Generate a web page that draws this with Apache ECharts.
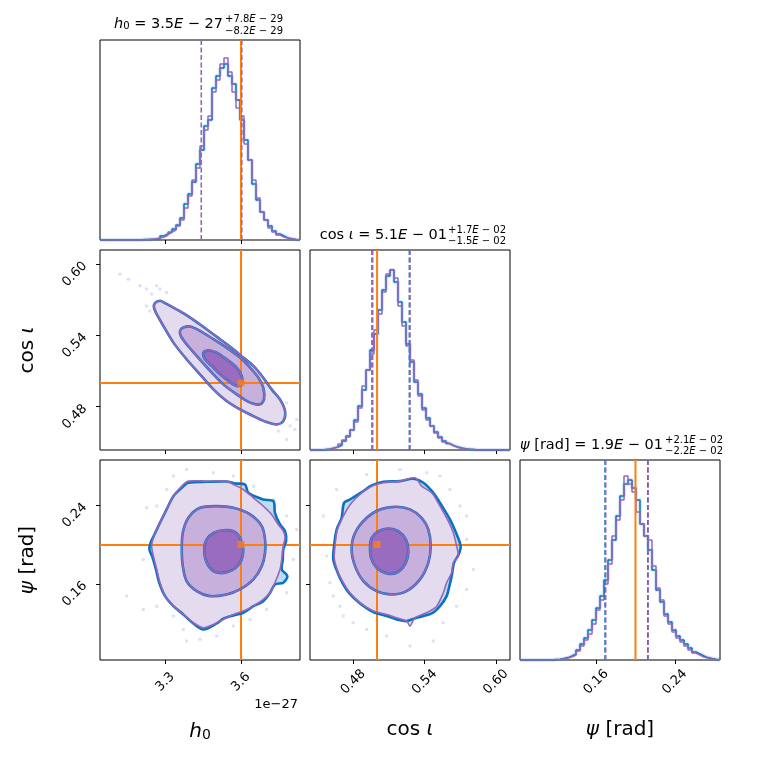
<!DOCTYPE html>
<html>
<head>
<meta charset="utf-8">
<script src="https://cdn.jsdelivr.net/npm/echarts@6/dist/echarts.min.js"></script>
<style>
html, body { margin: 0; padding: 0; background: #fff; }
#chart { width: 760px; height: 760px; }
</style>
</head>
<body>
<div id="chart"></div>
<script>
// ---- data (h0 in units of 1e-27) ----
var h0Range = [3.043, 3.833];
var cosRange = [0.4436, 0.6118];
var psiRange = [0.0825, 0.286];

var h0Ticks = [3.3, 3.6];
var cosTicks = [0.48, 0.54, 0.60];
var psiTicks = [0.16, 0.24];

var truth = { h0: 3.6, cos: 0.5, psi: 0.2 };

var h0QPurple = [3.443, 3.603];
var cosQPurple = [0.4963, 0.5277];
var cosQBlue = [0.4958, 0.5272];
var psiQPurple = [0.1697, 0.2129];
var psiQBlue = [0.1691, 0.2125];

// histogram heights, 50 bins over the axis range (fraction of panel height)
var h0Blue = [0,0,0,0,0,0,0,0,0,0, 0.002,0.003,0.004,0.005,0.008,0.02,0.03,0.04,0.055,0.075,
  0.11,0.18,0.23,0.29,0.38,0.45,0.57,0.6,0.76,0.82, 0.86,0.88,0.82,0.78,0.7,0.6,0.5,0.4,0.28,0.2,
  0.14,0.1,0.07,0.045,0.03,0.02,0.01,0.006,0.003,0.001];
var h0Purple = [0,0,0,0,0,0,0,0,0,0, 0.001,0.002,0.004,0.006,0.01,0.015,0.025,0.04,0.05,0.07,
  0.1,0.16,0.22,0.3,0.36,0.47,0.55,0.62,0.74,0.8, 0.88,0.91,0.84,0.74,0.66,0.62,0.48,0.4,0.3,0.21,
  0.14,0.1,0.06,0.04,0.025,0.015,0.01,0.005,0.003,0.001];
var cosBlue = [0,0,0,0.003,0.005,0.01,0.015,0.025,0.045,0.07, 0.1,0.15,0.22,0.3,0.4,0.5,0.58,0.7,0.8,0.87,
  0.9,0.84,0.74,0.64,0.53,0.44,0.34,0.28,0.21,0.16, 0.12,0.09,0.065,0.045,0.032,0.022,0.015,0.01,0.006,0.004,
  0.002,0,0,0,0,0,0,0,0,0];
var cosPurple = [0,0,0,0.002,0.004,0.008,0.015,0.03,0.05,0.065, 0.1,0.14,0.21,0.32,0.4,0.48,0.6,0.68,0.79,0.88,
  0.9,0.86,0.72,0.62,0.52,0.45,0.35,0.27,0.2,0.15, 0.12,0.085,0.06,0.04,0.03,0.02,0.013,0.008,0.005,0.003,
  0.002,0,0,0,0,0,0,0,0,0];
var psiBlue = [0,0,0,0,0,0,0,0,0.002,0.004, 0.008,0.012,0.02,0.03,0.05,0.08,0.11,0.15,0.2,0.26,
  0.32,0.4,0.5,0.6,0.72,0.82,0.88,0.9,0.86,0.8, 0.68,0.62,0.55,0.45,0.35,0.29,0.23,0.19,0.15,0.12,
  0.1,0.08,0.06,0.04,0.03,0.02,0.012,0.008,0.004,0.002];
var psiPurple = [0,0,0,0,0,0,0,0,0.001,0.003, 0.006,0.01,0.016,0.025,0.045,0.07,0.1,0.13,0.18,0.25,
  0.3,0.38,0.48,0.62,0.7,0.8,0.92,0.88,0.84,0.74, 0.68,0.62,0.6,0.47,0.36,0.3,0.22,0.18,0.14,0.11,
  0.09,0.07,0.05,0.035,0.025,0.015,0.01,0.006,0.003,0.001];

// contours: h0 vs cos(iota)
var hcOuter = [[3.260,0.5671],[3.280,0.5691],[3.300,0.5671],[3.333,0.5634],[3.372,0.5587],[3.418,0.5522],
  [3.464,0.5452],[3.517,0.5368],[3.570,0.5283],[3.609,0.5213],[3.649,0.5143],[3.688,0.5044],[3.721,0.4946],
  [3.754,0.4862],[3.774,0.4763],[3.767,0.4679],[3.741,0.4651],[3.701,0.4671],[3.649,0.4721],[3.596,0.4777],
  [3.543,0.4848],[3.491,0.4946],[3.438,0.5072],[3.385,0.5199],[3.333,0.5339],[3.293,0.5480],[3.267,0.5578],
  [3.256,0.5634]];
var hcMid = [[3.359,0.5438],[3.372,0.5466],[3.399,0.5474],[3.438,0.5438],[3.491,0.5368],[3.543,0.5297],
  [3.596,0.5213],[3.636,0.5129],[3.669,0.5044],[3.688,0.4960],[3.691,0.4862],[3.675,0.4820],[3.636,0.4834],
  [3.583,0.4904],[3.530,0.4988],[3.478,0.5101],[3.425,0.5227],[3.385,0.5325],[3.362,0.5396]];
var hcInner = [[3.451,0.5255],[3.471,0.5275],[3.504,0.5255],[3.543,0.5199],[3.583,0.5129],[3.603,0.5058],
  [3.603,0.4988],[3.583,0.4974],[3.550,0.5016],[3.517,0.5072],[3.484,0.5143],[3.458,0.5199]];
var hcDots = [[3.122,0.5915],[3.155,0.5873],[3.201,0.5817],[3.227,0.5789],[3.267,0.5817],[3.280,0.5789],
  [3.247,0.5747],[3.227,0.5648],[3.240,0.5606],[3.306,0.5761],[3.780,0.4834],[3.794,0.4637],[3.813,0.4609],
  [3.780,0.4525],[3.747,0.4595],[3.767,0.4736],[3.728,0.4750],[3.675,0.4693],[3.820,0.4693]];

// contours: h0 vs psi
var hpOuter = [[3.392,0.2645],[3.464,0.2645],[3.543,0.2645],[3.570,0.2611],[3.609,0.2560],[3.649,0.2475],
  [3.688,0.2391],[3.721,0.2306],[3.747,0.2204],[3.767,0.2136],[3.774,0.2069],[3.767,0.1984],[3.761,0.1848],
  [3.754,0.1746],[3.734,0.1611],[3.715,0.1509],[3.688,0.1441],[3.649,0.1373],[3.609,0.1323],[3.570,0.1289],
  [3.530,0.1238],[3.491,0.1187],[3.451,0.1153],[3.412,0.1204],[3.372,0.1289],[3.333,0.1373],[3.300,0.1475],
  [3.280,0.1611],[3.267,0.1746],[3.254,0.1882],[3.247,0.1984],[3.256,0.2085],[3.280,0.2221],[3.306,0.2357],
  [3.333,0.2492],[3.366,0.2594]];
var hpOuterBlue = [[3.370,0.2587],[3.392,0.2628],[3.464,0.2638],[3.543,0.2641],[3.576,0.2621],[3.616,0.2611],
  [3.629,0.2526],[3.688,0.2458],[3.728,0.2441],[3.734,0.2323],[3.754,0.2204],[3.774,0.2136],[3.778,0.2035],
  [3.767,0.1950],[3.765,0.1848],[3.761,0.1746],[3.783,0.1679],[3.767,0.1611],[3.734,0.1594],[3.715,0.1509],
  [3.688,0.1424],[3.649,0.1373],[3.609,0.1306],[3.570,0.1279],[3.530,0.1245],[3.504,0.1197],[3.451,0.1136],
  [3.412,0.1197],[3.372,0.1289],[3.333,0.1373],[3.300,0.1475],[3.277,0.1611],[3.264,0.1746],[3.251,0.1865],
  [3.238,0.1950],[3.243,0.2018],[3.256,0.2092],[3.280,0.2221],[3.306,0.2357],[3.333,0.2492]];
var hpMid = [[3.438,0.2374],[3.504,0.2391],[3.570,0.2374],[3.636,0.2306],[3.682,0.2187],[3.695,0.2052],
  [3.695,0.1916],[3.682,0.1780],[3.649,0.1645],[3.596,0.1543],[3.543,0.1492],[3.477,0.1475],[3.425,0.1526],
  [3.385,0.1628],[3.370,0.1780],[3.366,0.1950],[3.370,0.2119],[3.392,0.2272]];
var hpInner = [[3.464,0.2052],[3.491,0.2119],[3.530,0.2146],[3.570,0.2136],[3.596,0.2069],[3.609,0.1950],
  [3.596,0.1814],[3.557,0.1729],[3.510,0.1712],[3.477,0.1763],[3.458,0.1865],[3.455,0.1967]];
var hpDots = [[3.227,0.2374],[3.267,0.2391],[3.306,0.2560],[3.214,0.1848],[3.148,0.1475],[3.214,0.1340],
  [3.267,0.1373],[3.333,0.1272],[3.372,0.1136],[3.385,0.1018],[3.438,0.1035],[3.504,0.1069],[3.570,0.1170],
  [3.636,0.1238],[3.701,0.1340],[3.780,0.1509],[3.807,0.1848],[3.820,0.2153],[3.780,0.2289],[3.728,0.2458],
  [3.649,0.2594],[3.570,0.2696],[3.491,0.2730],[3.385,0.2764],[3.333,0.2696]];

// contours: cos(iota) vs psi
var cpOuter = [[0.5053,0.2628],[0.5193,0.2645],[0.5319,0.2679],[0.5375,0.2594],[0.5459,0.2526],[0.5529,0.2391],
  [0.5599,0.2238],[0.5641,0.2119],[0.5669,0.1984],[0.5683,0.1882],[0.5641,0.1814],[0.5627,0.1713],[0.5585,0.1611],
  [0.5557,0.1509],[0.5501,0.1373],[0.5417,0.1306],[0.5319,0.1255],[0.5277,0.1170],[0.5249,0.1221],[0.5165,0.1255],
  [0.5081,0.1289],[0.4969,0.1323],[0.4857,0.1407],[0.4772,0.1509],[0.4716,0.1611],[0.4674,0.1713],[0.4641,0.1848],
  [0.4646,0.1984],[0.4666,0.2153],[0.4716,0.2289],[0.4786,0.2425],[0.4871,0.2526],[0.4955,0.2594]];
var cpOuterBlue = [[0.4955,0.2601],[0.5053,0.2638],[0.5193,0.2645],[0.5305,0.2669],[0.5389,0.2628],[0.5473,0.2526],
  [0.5543,0.2397],[0.5613,0.2255],[0.5664,0.2119],[0.5703,0.1984],[0.5686,0.1899],[0.5647,0.1814],[0.5630,0.1696],
  [0.5608,0.1577],[0.5585,0.1475],[0.5529,0.1373],[0.5459,0.1299],[0.5333,0.1255],[0.5249,0.1221],[0.5165,0.1238],
  [0.5081,0.1272],[0.4969,0.1313],[0.4857,0.1401],[0.4767,0.1502],[0.4711,0.1604],[0.4669,0.1713],[0.4632,0.1848],
  [0.4638,0.1984],[0.4660,0.2153],[0.4702,0.2272],[0.4722,0.2424],[0.4772,0.2458],[0.4871,0.2533]];
var cpMid = [[0.4913,0.2272],[0.5025,0.2357],[0.5165,0.2384],[0.5277,0.2357],[0.5375,0.2272],[0.5431,0.2153],
  [0.5451,0.1984],[0.5431,0.1814],[0.5361,0.1645],[0.5249,0.1526],[0.5123,0.1492],[0.4997,0.1526],[0.4885,0.1628],
  [0.4815,0.1780],[0.4786,0.1950],[0.4815,0.2119]];
var cpInner = [[0.4955,0.2068],[0.5011,0.2136],[0.5095,0.2163],[0.5179,0.2136],[0.5243,0.2051],[0.5263,0.1933],
  [0.5235,0.1797],[0.5165,0.1713],[0.5081,0.1706],[0.4997,0.1763],[0.4949,0.1865],[0.4941,0.1984]];
var cpDots = [[0.4548,0.2289],[0.4576,0.1882],[0.4604,0.1611],[0.4632,0.1475],[0.4688,0.1373],[0.4716,0.1272],
  [0.4800,0.1204],[0.4913,0.1136],[0.5081,0.1069],[0.5277,0.0967],[0.5473,0.1018],[0.5557,0.1204],[0.5669,0.1373],
  [0.5753,0.1543],[0.5810,0.1746],[0.5753,0.2052],[0.5753,0.2289],[0.5697,0.2391],[0.5613,0.2560],[0.5529,0.2696],
  [0.5417,0.2730],[0.5193,0.2764],[0.4913,0.2713],[0.4660,0.2560]];

// ---- styles ----
var BLUE = '#0a72c0';
var PURPLE = '#9467bd';
var ORANGE = '#ff7f0e';
var FILL1 = '#e5dbef', FILL2 = '#c7b1dc', FILL3 = '#9a6cc0', BLUEFILL = '#bddcf0';
var FONT = 'DejaVu Sans';

function histData(range, vals) {
    var n = vals.length, w = (range[1] - range[0]) / n, out = [];
    for (var i = 0; i < n; i++) out.push([range[0] + i * w, vals[i]]);
    out.push([range[1], vals[n - 1]]);
    return out;
}

function histSeries(g, range, vals, color, z) {
    return {
        type: 'line', xAxisIndex: g, yAxisIndex: g, step: 'end', symbol: 'none', z: z, silent: true,
        data: histData(range, vals),
        lineStyle: { color: color, width: 1.5 }
    };
}

function haloSeries(g, range, vals) {
    return {
        type: 'line', xAxisIndex: g, yAxisIndex: g, step: 'end', symbol: 'none', z: 1, silent: true,
        data: histData(range, vals),
        lineStyle: { color: 'rgba(40,130,200,0.18)', width: 4 }
    };
}

// vertical line across a histogram panel (y axis runs 0..1)
function vlineSeries(g, v, color, dashed, z) {
    return {
        type: 'line', xAxisIndex: g, yAxisIndex: g, symbol: 'none', silent: true, z: z,
        data: [[v, 0], [v, 1]],
        lineStyle: { color: color, width: dashed ? 1.6 : 2, type: dashed ? [5, 2.5] : 'solid' }
    };
}

function contour(g, pts, fill, stroke, lw, z) {
    return {
        type: 'custom', xAxisIndex: g, yAxisIndex: g, z: z, silent: true, clip: true,
        data: [pts[0]],
        renderItem: function (params, api) {
            var p = pts.map(function (d) { return api.coord(d); });
            return {
                type: 'polygon',
                shape: { points: p, smooth: 0.3 },
                style: { fill: fill || 'none', stroke: stroke || 'none', lineWidth: lw || 0 }
            };
        }
    };
}

function dots(g, pts) {
    return {
        type: 'scatter', xAxisIndex: g, yAxisIndex: g, z: 1, silent: true, data: pts,
        symbolSize: 3.5, itemStyle: { color: 'rgba(110,140,215,0.3)' }
    };
}

function truthSeries(g, x, y) {
    return {
        type: 'scatter', xAxisIndex: g, yAxisIndex: g, z: 20, silent: true, data: [[x, y]],
        symbol: 'rect', symbolSize: 7, itemStyle: { color: ORANGE },
        markLine: {
            silent: true, symbol: ['none', 'none'], label: { show: false },
            lineStyle: { color: ORANGE, width: 2, type: 'solid' },
            data: [{ xAxis: x }, { yAxis: y }]
        }
    };
}

function panel2d(g, outer, outerBlue, mid, inner, dotPts, tx, ty) {
    return [
        dots(g, dotPts),
        contour(g, outerBlue, BLUEFILL, null, 0, 2),
        contour(g, outer, FILL1, null, 0, 3),
        contour(g, mid, FILL2, null, 0, 4),
        contour(g, inner, FILL3, null, 0, 5),
        contour(g, outerBlue, null, BLUE, 2.6, 6),
        contour(g, mid, null, BLUE, 2.6, 6),
        contour(g, inner, null, BLUE, 2.6, 6),
        contour(g, outer, null, PURPLE, 1.6, 7),
        contour(g, mid, null, PURPLE, 1.6, 7),
        contour(g, inner, null, PURPLE, 1.6, 7),
        truthSeries(g, tx, ty)
    ];
}

var grids = [
    { left: 100, top: 40 }, { left: 100, top: 250 }, { left: 310, top: 250 },
    { left: 100, top: 460 }, { left: 310, top: 460 }, { left: 520, top: 460 }
].map(function (p) {
    return { left: p.left, top: p.top, width: 200, height: 200, show: true,
             borderColor: '#000', borderWidth: 1, backgroundColor: 'transparent' };
});

var nameRich = {
    it: { fontFamily: FONT, fontSize: 20, fontStyle: 'italic', color: '#000' },
    n: { fontFamily: FONT, fontSize: 20, color: '#000' },
    sub: { fontFamily: FONT, fontSize: 14, color: '#000', verticalAlign: 'bottom', lineHeight: 14 }
};

function axis(g, range, ticks, opts) {
    var a = {
        type: 'value', gridIndex: g, min: range[0], max: range[1],
        splitLine: { show: false },
        axisLine: { show: false },
        axisTick: { show: !!ticks, customValues: ticks || [], length: 4, lineStyle: { color: '#000' } },
        axisLabel: { show: !!opts.labels, customValues: ticks || [], rotate: 45,
                     margin: opts.isX ? 22 : 15,
                     align: opts.isX ? 'center' : undefined,
                     verticalAlign: opts.isX ? 'middle' : undefined,
                     fontFamily: FONT, fontSize: 13, color: '#000',
                     formatter: function (v) { return v.toFixed(opts.dec); } }
    };
    if (opts.name) {
        a.name = opts.name;
        a.nameLocation = 'middle';
        a.nameGap = opts.gap;
        a.nameRotate = opts.rot;
        a.nameTextStyle = { fontFamily: FONT, fontSize: 20, color: '#000', rich: nameRich };
    }
    return a;
}

var hName = '{it|h}{sub|0}';
var cName = '{n|cos }{it|ι}';
var pName = '{it|ψ}{n| [rad]}';

var xAxes = [
    axis(0, h0Range, h0Ticks, { dec: 1, isX: true }),
    axis(1, h0Range, h0Ticks, { dec: 1, isX: true }),
    axis(2, cosRange, cosTicks, { dec: 2, isX: true }),
    axis(3, h0Range, h0Ticks, { dec: 1, isX: true, labels: true, name: hName, gap: 62, rot: 0 }),
    axis(4, cosRange, cosTicks, { dec: 2, isX: true, labels: true, name: cName, gap: 60, rot: 0 }),
    axis(5, psiRange, psiTicks, { dec: 2, isX: true, labels: true, name: pName, gap: 60, rot: 0 })
];
var yAxes = [
    axis(0, [0, 1], null, { dec: 2 }),
    axis(1, cosRange, cosTicks, { dec: 2, labels: true, name: cName, gap: 62, rot: 90 }),
    axis(2, [0, 1], null, { dec: 2 }),
    axis(3, psiRange, psiTicks, { dec: 2, labels: true, name: pName, gap: 62, rot: 90 }),
    axis(4, psiRange, psiTicks, { dec: 2 }),
    axis(5, [0, 1], null, { dec: 2 })
];

var series = [
    haloSeries(0, h0Range, h0Blue),
    histSeries(0, h0Range, h0Blue, BLUE, 3),
    histSeries(0, h0Range, h0Purple, PURPLE, 4),
    vlineSeries(0, truth.h0, ORANGE, false, 5),
    vlineSeries(0, h0QPurple[0], PURPLE, true, 6), vlineSeries(0, h0QPurple[1], PURPLE, true, 6),

    haloSeries(2, cosRange, cosBlue),
    histSeries(2, cosRange, cosBlue, BLUE, 3),
    histSeries(2, cosRange, cosPurple, PURPLE, 4),
    vlineSeries(2, cosQBlue[0], BLUE, true, 5), vlineSeries(2, cosQBlue[1], BLUE, true, 5),
    vlineSeries(2, cosQPurple[0], PURPLE, true, 6), vlineSeries(2, cosQPurple[1], PURPLE, true, 6),
    vlineSeries(2, truth.cos, ORANGE, false, 7),

    haloSeries(5, psiRange, psiBlue),
    histSeries(5, psiRange, psiBlue, BLUE, 3),
    histSeries(5, psiRange, psiPurple, PURPLE, 4),
    vlineSeries(5, psiQBlue[0], BLUE, true, 5), vlineSeries(5, psiQBlue[1], BLUE, true, 5),
    vlineSeries(5, psiQPurple[0], PURPLE, true, 6), vlineSeries(5, psiQPurple[1], PURPLE, true, 6),
    vlineSeries(5, truth.psi, ORANGE, false, 7)
]
.concat(panel2d(1, hcOuter, hcOuter, hcMid, hcInner, hcDots, truth.h0, truth.cos))
.concat(panel2d(3, hpOuter, hpOuterBlue, hpMid, hpInner, hpDots, truth.h0, truth.psi))
.concat(panel2d(4, cpOuter, cpOuterBlue, cpMid, cpInner, cpDots, truth.cos, truth.psi));

var titleRich = {
    it: { fontFamily: FONT, fontSize: 14.5, fontStyle: 'italic', fill: '#000', color: '#000' },
    n: { fontFamily: FONT, fontSize: 14.5, fill: '#000', color: '#000' },
    sub: { fontFamily: FONT, fontSize: 10, fill: '#000', color: '#000', verticalAlign: 'bottom', lineHeight: 10 }
};
var smallRich = { i: { fontStyle: 'italic', fontSize: 10, fontFamily: FONT } };

function txt(x, y, text, size, align, rich) {
    return {
        type: 'text', x: x, y: y, silent: true,
        style: {
            text: text, fill: '#000', font: size + 'px "' + FONT + '"',
            align: align, textAlign: align, verticalAlign: 'middle', textVerticalAlign: 'middle',
            rich: rich
        }
    };
}

var graphics = [
    txt(223, 24, '{it|h}{sub|0}{n| = 3.5}{it|E}{n| − 27}', 14.5, 'right', titleRich),
    txt(225, 19, '+7.8{i|E} − 29', 10, 'left', smallRich),
    txt(225, 31, '−8.2{i|E} − 29', 10, 'left', smallRich),
    txt(447, 235, '{n|cos }{it|ι}{n| = 5.1}{it|E}{n| − 01}', 14.5, 'right', titleRich),
    txt(448, 230, '+1.7{i|E} − 02', 10, 'left', smallRich),
    txt(448, 241, '−1.5{i|E} − 02', 10, 'left', smallRich),
    txt(663, 445, '{it|ψ}{n| [rad] = 1.9}{it|E}{n| − 01}', 14.5, 'right', titleRich),
    txt(665, 440, '+2.1{i|E} − 02', 10, 'left', smallRich),
    txt(665, 451, '−2.2{i|E} − 02', 10, 'left', smallRich),
    txt(298, 705, '1e−27', 13, 'right', null)
];

var chart = echarts.init(document.getElementById('chart'));
chart.setOption({
    animation: false,
    backgroundColor: '#fff',
    grid: grids,
    xAxis: xAxes,
    yAxis: yAxes,
    series: series,
    graphic: { elements: graphics }
});
</script>
</body>
</html>
